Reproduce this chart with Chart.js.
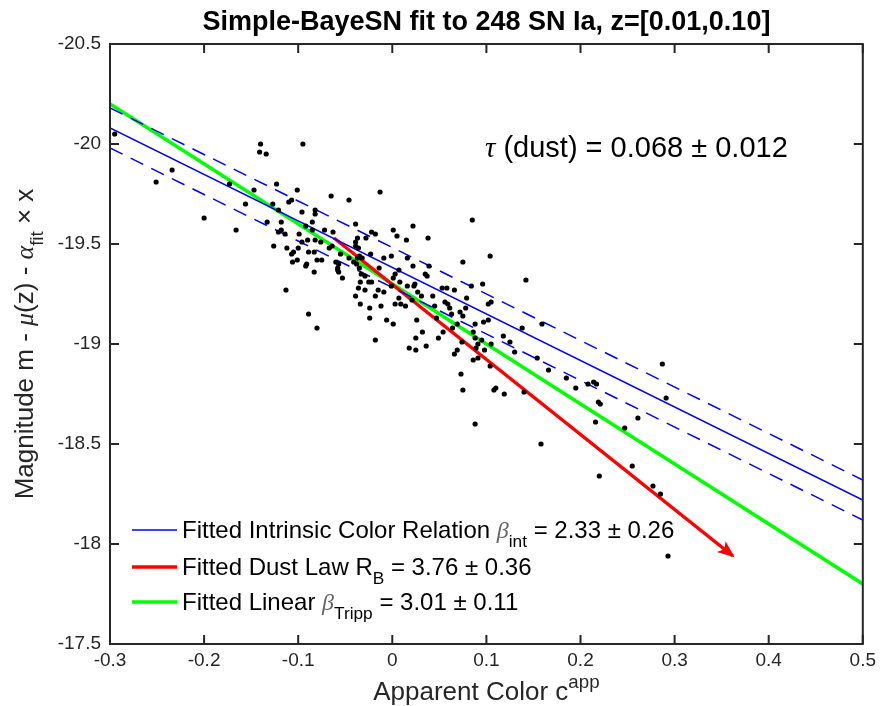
<!DOCTYPE html>
<html>
<head>
<meta charset="utf-8">
<script src="https://cdn.jsdelivr.net/npm/chart.js@4.4.1/dist/chart.umd.min.js"></script>
<style>
  html, body { margin: 0; padding: 0; background: #fff; }
</style>
</head>
<body>
<canvas id="chart" width="881" height="706"></canvas>
<script>
// apparent colour c_app of each SN Ia
const colorApp = [
  -0.295, -0.140, -0.141, -0.134, -0.095, -0.234, -0.251, -0.173, -0.123, -0.147,
  -0.101, -0.156, -0.107, -0.110, -0.127, -0.096, -0.121, -0.200, -0.133, -0.118,
  -0.092, -0.166, -0.121, -0.118, -0.114, -0.099, -0.090, -0.096, -0.126, -0.112,
  -0.100, -0.105, -0.107, -0.089, -0.106, -0.101, -0.091, -0.092, -0.113, -0.089,
  -0.013, -0.065, -0.046, -0.082, -0.082, 0.085, -0.085, -0.039, 0.022, 0.001,
  -0.085, -0.072, -0.063, -0.022, 0.005, -0.018, -0.037, -0.039, -0.028, -0.082,
  -0.076, 0.038, 0.015, -0.067, -0.064, -0.039, -0.036, 0.104, -0.055, -0.083,
  -0.023, -0.035, -0.032, -0.037, -0.001, -0.009, -0.046, 0.075, -0.075, -0.080,
  -0.060, -0.057, 0.022, 0.039, -0.058, -0.058, -0.014, 0.007, -0.035, -0.083,
  -0.057, 0.035, 0.037, 0.003, 0.001, -0.033, -0.029, -0.053, 0.096, 0.084,
  0.024, 0.023, -0.034, -0.025, -0.022, -0.001, 0.016, 0.053, 0.058, 0.066,
  -0.036, -0.029, -0.015, -0.009, 0.031, -0.018, 0.043, 0.007, -0.039, 0.021,
  0.056, 0.105, 0.102, 0.045, -0.034, -0.012, 0.003, 0.061, 0.059, 0.014,
  0.072, 0.075, 0.063, 0.102, 0.026, 0.047, -0.024, -0.006, 0.142, 0.097,
  0.138, 0.159, 0.095, 0.091, 0.118, 0.125, 0.098, 0.130, 0.091, 0.104,
  0.154, 0.166, 0.185, 0.195, 0.208, 0.214, 0.217, 0.108, 0.110, 0.119,
  0.140, 0.287, 0.291, 0.219, 0.221, 0.216, 0.261, 0.247, 0.255, 0.220,
  0.277, 0.285, 0.293, -0.080, -0.018, 0.001, -0.024, 0.009, 0.032, 0.025,
  0.018, 0.025, 0.036, 0.049, 0.054, 0.073, 0.075, 0.066, 0.069, 0.089,
  0.086, 0.064, 0.016, 0.008, 0.027, 0.079, 0.078, 0.088, 0.069, 0.086,
  0.088, 0.074, 0.105, -0.041, -0.038, 0.158, 0.088
];
// m - mu(z) - alpha*x for the same objects
const magCorr = [
  -20.05, -20.00, -19.96, -19.95, -20.00, -19.87, -19.81, -19.80, -19.80, -19.77,
  -19.77, -19.70, -19.72, -19.71, -19.70, -19.66, -19.67, -19.63, -19.61, -19.61,
  -19.59, -19.57, -19.56, -19.57, -19.55, -19.55, -19.52, -19.51, -19.49, -19.48,
  -19.48, -19.46, -19.45, -19.46, -19.41, -19.42, -19.40, -19.39, -19.27, -19.15,
  -19.76, -19.74, -19.72, -19.67, -19.65, -19.62, -19.61, -19.60, -19.59, -19.57,
  -19.57, -19.57, -19.56, -19.56, -19.54, -19.55, -19.53, -19.51, -19.53, -19.52,
  -19.51, -19.53, -19.52, -19.48, -19.49, -19.49, -19.48, -19.44, -19.45, -19.46,
  -19.45, -19.44, -19.43, -19.43, -19.44, -19.43, -19.43, -19.41, -19.42, -19.42,
  -19.41, -19.40, -19.39, -19.39, -19.38, -19.37, -19.38, -19.37, -19.38, -19.36,
  -19.36, -19.35, -19.34, -19.35, -19.33, -19.35, -19.34, -19.33, -19.30, -19.29,
  -19.30, -19.29, -19.31, -19.31, -19.31, -19.29, -19.29, -19.28, -19.28, -19.27,
  -19.28, -19.27, -19.27, -19.26, -19.24, -19.24, -19.24, -19.23, -19.24, -19.22,
  -19.21, -19.21, -19.20, -19.19, -19.20, -19.19, -19.20, -19.18, -19.20, -19.19,
  -19.16, -19.14, -19.15, -19.12, -19.12, -19.13, -19.13, -19.12, -19.32, -19.11,
  -19.08, -19.10, -19.02, -19.00, -19.04, -19.01, -18.97, -18.96, -18.93, -18.89,
  -18.93, -18.87, -18.83, -18.78, -18.80, -18.81, -18.80, -18.77, -18.78, -18.75,
  -18.76, -18.90, -18.73, -18.71, -18.70, -18.61, -18.63, -18.58, -18.39, -18.34,
  -18.29, -18.25, -17.94, -19.08, -19.02, -19.10, -19.18, -19.20, -19.06, -19.03,
  -18.98, -18.97, -18.99, -19.03, -19.06, -18.85, -18.77, -18.95, -18.97, -18.98,
  -18.92, -19.08, -19.43, -19.31, -19.26, -19.23, -19.18, -19.10, -19.10, -19.06,
  -19.03, -19.01, -19.00, -19.41, -19.40, -18.50, -18.60
];

// fitted relations, as end points
const fitX = [-0.3, 0.5];
const intrinsicY = [-20.08, -18.22];
const intrinsicUpperY = [-20.18, -18.32];
const intrinsicLowerY = [-19.98, -18.12];
const trippY = [-20.20, -17.80];
const dustX = [-0.062, 0.362];
const dustY = [-19.53, -17.94];

const xTicks = [-0.3, -0.2, -0.1, 0, 0.1, 0.2, 0.3, 0.4, 0.5];
const yTicks = [-20.5, -20, -19.5, -19, -18.5, -18, -17.5];

const sans = "'Liberation Sans', Arial, Helvetica, sans-serif";
const serif = "'Liberation Serif', 'DejaVu Serif', serif";
const axisCol = '#262626';

const pts = (xs, ys) => xs.map((v, i) => ({ x: v, y: ys[i] }));
const fmt = v => String(Math.round(v * 10) / 10);

// text made of pieces (sub/superscripts, greek italics)
function richWidth(ctx, parts, size) {
  let w = 0;
  parts.forEach(p => {
    const fs = (p.sub || p.sup) ? size * 0.72 : size;
    ctx.font = (p.it ? 'italic ' : '') + (p.bold ? 'bold ' : '') + fs + 'px ' + (p.serif ? serif : sans);
    w += ctx.measureText(p.t).width;
  });
  return w;
}
function drawRich(ctx, x, y, parts, size, color) {
  let cx = x;
  parts.forEach(p => {
    const fs = (p.sub || p.sup) ? size * 0.72 : size;
    ctx.font = (p.it ? 'italic ' : '') + (p.bold ? 'bold ' : '') + fs + 'px ' + (p.serif ? serif : sans);
    ctx.fillStyle = p.color || color;
    const dy = p.sub ? size * 0.38 : (p.sup ? -size * 0.45 : 0);
    ctx.fillText(p.t, cx, y + dy);
    cx += ctx.measureText(p.t).width;
  });
}

const legendRows = [
  { color: '#0000ff', width: 1.5, parts: [
    { t: 'Fitted Intrinsic Color Relation ' }, { t: 'β', it: true, serif: true, color: '#666' },
    { t: 'int', sub: true }, { t: ' = 2.33 ± 0.26' }] },
  { color: '#ff0000', width: 3.5, parts: [
    { t: 'Fitted Dust Law R' }, { t: 'B', sub: true }, { t: ' = 3.76 ± 0.36' }] },
  { color: '#00ff00', width: 3.5, parts: [
    { t: 'Fitted Linear ' }, { t: 'β', it: true, serif: true, color: '#666' },
    { t: 'Tripp', sub: true }, { t: ' = 3.01 ± 0.11' }] }
];

const decor = {
  id: 'decor',
  afterDatasetsDraw(chart) {
    const { ctx, chartArea: a, scales: { x, y } } = chart;
    // arrow head at the end of the dust law
    const meta = chart.getDatasetMeta(4);
    const p0 = meta.data[0], p1 = meta.data[1];
    const ang = Math.atan2(p1.y - p0.y, p1.x - p0.x);
    ctx.save();
    ctx.translate(p1.x, p1.y);
    ctx.rotate(ang);
    ctx.beginPath();
    ctx.moveTo(2, 0);
    ctx.lineTo(-15, 7);
    ctx.lineTo(-11, 0);
    ctx.lineTo(-15, -7);
    ctx.closePath();
    ctx.fillStyle = '#ff0000';
    ctx.fill();
    ctx.restore();

    // axes box with inward ticks
    ctx.save();
    ctx.strokeStyle = axisCol;
    ctx.lineWidth = 2;
    ctx.strokeRect(a.left, a.top, a.right - a.left, a.bottom - a.top);
    const tl = 9;
    ctx.beginPath();
    xTicks.forEach(v => {
      const px = x.getPixelForValue(v);
      ctx.moveTo(px, a.bottom); ctx.lineTo(px, a.bottom - tl);
      ctx.moveTo(px, a.top); ctx.lineTo(px, a.top + tl);
    });
    yTicks.forEach(v => {
      const py = y.getPixelForValue(v);
      ctx.moveTo(a.left, py); ctx.lineTo(a.left + tl, py);
      ctx.moveTo(a.right, py); ctx.lineTo(a.right - tl, py);
    });
    ctx.stroke();
    ctx.restore();
  },
  afterDraw(chart) {
    const { ctx, chartArea: a } = chart;
    const cx = (a.left + a.right) / 2;
    ctx.save();
    ctx.textBaseline = 'alphabetic';

    // title
    ctx.font = 'bold 27px ' + sans;
    ctx.fillStyle = '#000';
    ctx.textAlign = 'center';
    ctx.fillText('Simple-BayeSN fit to 248 SN Ia, z=[0.01,0.10]', cx, 30);
    ctx.textAlign = 'left';

    // x axis title
    const xt = [{ t: 'Apparent Color c' }, { t: 'app', sup: true }];
    drawRich(ctx, cx - richWidth(ctx, xt, 26) / 2, 700, xt, 26, axisCol);

    // y axis title
    const yt = [{ t: 'Magnitude m - ' }, { t: 'μ', it: true, serif: true }, { t: '(z) - ' },
      { t: 'α', it: true, serif: true }, { t: 'fit', sub: true }, { t: ' × x' }];
    ctx.save();
    ctx.translate(33, (a.top + a.bottom) / 2);
    ctx.rotate(-Math.PI / 2);
    drawRich(ctx, -richWidth(ctx, yt, 26) / 2, 0, yt, 26, axisCol);
    ctx.restore();

    // tau annotation
    drawRich(ctx, 485, 157, [{ t: 'τ', it: true, serif: true }, { t: ' (dust) = 0.068 ± 0.012' }], 29, '#000');

    // legend
    const rowY = [530, 567, 602];
    legendRows.forEach((r, i) => {
      ctx.strokeStyle = r.color;
      ctx.lineWidth = r.width;
      ctx.beginPath();
      ctx.moveTo(132, rowY[i]);
      ctx.lineTo(177, rowY[i]);
      ctx.stroke();
      drawRich(ctx, 182, rowY[i] + 8, r.parts, 24, '#000');
    });
    ctx.restore();
  }
};

new Chart(document.getElementById('chart'), {
  type: 'scatter',
  data: {
    datasets: [
      { label: 'SN Ia', data: pts(colorApp, magCorr), showLine: false,
        pointRadius: 2.6, pointBackgroundColor: '#000', pointBorderWidth: 0, pointHoverRadius: 0 },
      { label: 'intrinsic', data: pts(fitX, intrinsicY), showLine: true, borderColor: '#0000ff',
        borderWidth: 1.5, pointRadius: 0 },
      { label: 'intrinsic upper', data: pts(fitX, intrinsicUpperY), showLine: true, borderColor: '#0000ff',
        borderWidth: 1.5, borderDash: [14, 9], pointRadius: 0 },
      { label: 'intrinsic lower', data: pts(fitX, intrinsicLowerY), showLine: true, borderColor: '#0000ff',
        borderWidth: 1.5, borderDash: [14, 9], pointRadius: 0 },
      { label: 'dust', data: pts(dustX, dustY), showLine: true, borderColor: '#ff0000',
        borderWidth: 3.5, pointRadius: 0 },
      { label: 'tripp', data: pts(fitX, trippY), showLine: true, borderColor: '#00ff00',
        borderWidth: 3.5, pointRadius: 0 }
    ]
  },
  options: {
    responsive: false,
    animation: false,
    events: [],
    layout: { padding: { top: 44, right: 14, left: 0, bottom: 0 } },
    plugins: { legend: { display: false }, tooltip: { enabled: false } },
    scales: {
      x: {
        type: 'linear', min: -0.3, max: 0.5,
        afterFit: s => { s.height = 62; },
        afterBuildTicks: s => { s.ticks = xTicks.map(v => ({ value: v })); },
        grid: { display: false, drawTicks: false },
        border: { display: false },
        ticks: { font: { family: sans, size: 19 }, color: axisCol, padding: 5, maxRotation: 0,
                 callback: v => fmt(v) }
      },
      y: {
        type: 'linear', min: -20.5, max: -17.5, reverse: true,
        afterFit: s => { s.width = 110; },
        afterBuildTicks: s => { s.ticks = yTicks.map(v => ({ value: v })); },
        grid: { display: false, drawTicks: false },
        border: { display: false },
        ticks: { font: { family: sans, size: 19 }, color: axisCol, padding: 9,
                 callback: v => fmt(v) }
      }
    }
  },
  plugins: [decor]
});
</script>
</body>
</html>
